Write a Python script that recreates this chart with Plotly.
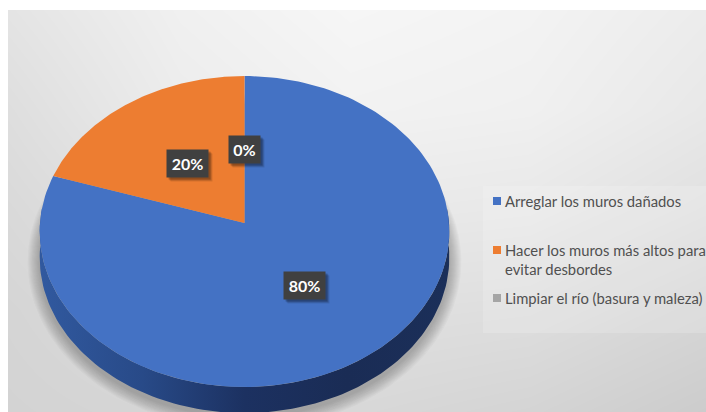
import numpy as np
import plotly.graph_objects as go

categories = ["Arreglar los muros dañados",
              "Hacer los muros más altos para<br>evitar desbordes",
              "Limpiar el río (basura y maleza)"]
values = [80, 20, 0]
labels = ["80%", "20%", "0%"]
colors = ["#4472c4", "#ed7d31", "#a5a5a5"]

# backdrop greys (rows top to bottom)
bg_x = [8, 180, 350, 530, 706]
bg_y = [10, 110, 210, 310, 412]
bg_z = [[228, 240, 246, 243, 236],
        [222, 236, 242, 240, 232],
        [217, 228, 234, 232, 224],
        [213, 220, 224, 222, 214],
        [211, 214, 216, 212, 204]]

# pie geometry in page pixels, slight perspective
cx, cy, rx, ry, k, depth = 244.5, 223, 204.5, 155, 0.0547, 26


def project(theta, r=1.0):
    # theta clockwise from 12 o'clock
    u = r * np.sin(theta)
    v = -r * np.cos(theta)
    w = 1 - k * v
    return cx + rx * u / w, cy + ry * v / w


fig = go.Figure()
fig.add_trace(go.Heatmap(x=bg_x, y=bg_y, z=bg_z, zsmooth="best", showscale=False,
                         zmin=0, zmax=255, hoverinfo="skip",
                         colorscale=[[0, "rgb(0,0,0)"], [1, "rgb(255,255,255)"]]))

# white page strip left and above the chart area
fig.add_shape(type="rect", x0=0, x1=8, y0=0, y1=412, line_width=0, fillcolor="white", layer="above")
fig.add_shape(type="rect", x0=0, x1=706, y0=0, y1=10, line_width=0, fillcolor="white", layer="above")

# soft drop shadow: stacked see-through outlines
ring = np.linspace(0, 2 * np.pi, 181)
sx, sy = project(ring)
for d in range(12, 0, -1):
    fig.add_trace(go.Scatter(x=cx + (sx - cx) * (1 + d / rx), y=cy + 10 + (sy - cy) * (1 + d / ry) + depth * 0.75,
                             mode="lines", line_width=0, fill="toself",
                             fillcolor="rgba(60,60,60,0.03)", hoverinfo="skip"))

# rim of the disc, only the near half shows
near = np.linspace(np.pi * 0.47, np.pi * 1.53, 121)
nx, ny = project(near)
fig.add_trace(go.Scatter(x=np.r_[nx, nx[::-1]], y=np.r_[ny, ny[::-1] + depth],
                         mode="lines", line_width=0, fill="toself", hoverinfo="skip",
                         fillgradient=dict(type="horizontal", colorscale=[
                             [0, "#31599f"], [0.25, "#284a88"], [0.5, "#1c3161"],
                             [0.75, "#1a2c55"], [1, "#1b2f59"]])))

# top face wedges
start = 0
total = sum(values)
for val, col in zip(values, colors):
    a0 = start / total * 2 * np.pi
    a1 = (start + val) / total * 2 * np.pi
    t = np.linspace(a0, a1, 180)
    wx, wy = project(t)
    fig.add_trace(go.Scatter(x=np.r_[cx, wx, cx], y=np.r_[cy, wy, cy], mode="lines",
                             line_width=0, fill="toself", fillcolor=col, hoverinfo="skip"))
    start += val

# data labels
start = 0
for val, lab in zip(values, labels):
    mid = (start + val / 2) / total * 2 * np.pi
    lx, ly = project(mid, 0.485)
    w = 29 if len(lab) == 2 else 39
    for off, alpha in [(4, 0.10), (3, 0.15), (2, 0.2)]:
        fig.add_annotation(x=lx, y=ly, text=" ", showarrow=False, width=w, height=25,
                           bgcolor=f"rgba(0,0,0,{alpha})", xshift=off, yshift=-off)
    fig.add_annotation(x=lx, y=ly, text=f"<b>{lab}</b>", showarrow=False, width=w, height=25,
                       bgcolor="#404040", font=dict(family="Lato", size=16, color="white"))
    start += val

# legend panel, a see-through box over the backdrop
fig.add_trace(go.Scatter(x=[483, 706, 706, 483, 483], y=[186, 186, 333, 333, 186], mode="lines",
                         line_width=0, fill="toself", fillcolor="rgba(255,255,255,0.17)", hoverinfo="skip"))
legend_y = [201, 250, 298]
fig.add_trace(go.Scatter(x=[497] * 3, y=legend_y, mode="markers", hoverinfo="skip",
                         marker=dict(symbol="square", size=8, color=colors)))
for cat, y in zip(categories, legend_y):
    fig.add_annotation(x=503, y=y, yshift=11, text=cat, showarrow=False, xanchor="left", yanchor="top",
                       align="left", font=dict(family="Lato", size=14.8, color="#505050"))

# grey behind the heatmap so no light sliver shows at the far edge
fig.update_layout(width=706, height=412, margin=dict(l=0, r=0, t=0, b=0),
                  paper_bgcolor="#d8d8d8", plot_bgcolor="#d8d8d8", showlegend=False,
                  xaxis=dict(range=[0, 706], visible=False),
                  yaxis=dict(range=[412, 0], visible=False))

fig.write_html("out.html", config=dict(displayModeBar=False),
               post_script="document.body.style.margin='0';")
